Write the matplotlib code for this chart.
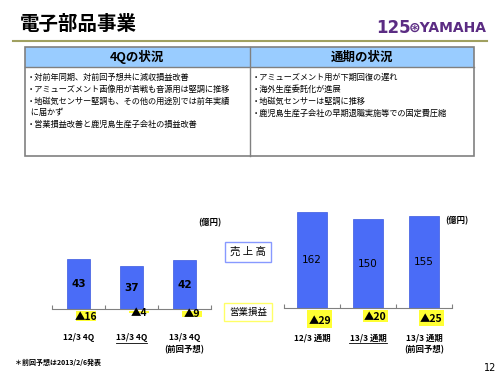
import matplotlib.pyplot as plt
from matplotlib.patches import Rectangle
from matplotlib.lines import Line2D

plt.rcParams['font.family'] = ['Noto Sans CJK JP', 'DejaVu Sans']

# data
q_labels = ['12/3 4Q', '13/3 4Q', '13/3 4Q\n(前回予想)']
q_sales = [43, 37, 42]
q_profit = [-16, -4, -9]
y_labels = ['12/3 通期', '13/3 通期', '13/3 通期\n(前回予想)']
y_sales = [162, 150, 155]
y_profit = [-29, -20, -25]

left_items = ['・対前年同期、対前回予想共に減収損益改善',
              '・アミューズメント画像用が苦戦も音源用は堅調に推移',
              '・地磁気センサー堅調も、その他の用途別では前年実績\n  に届かず',
              '・営業損益改善と鹿児島生産子会社の損益改善']
right_items = ['・アミューズメント用が下期回復の遅れ',
               '・海外生産委託化が進展',
               '・地磁気センサーは堅調に推移',
               '・鹿児島生産子会社の早期退職実施等での固定費圧縮']

W, H = 500, 375
fig = plt.figure(figsize=(5, 3.75), dpi=100)


def fx(x):
    return x / W


def fy(y):
    return 1 - y / H


# title and logo
fig.text(fx(20), fy(24), '電子部品事業', fontsize=14, fontweight='bold', va='center')
fig.add_artist(Line2D([fx(13), fx(487)], [fy(41), fy(41)], color='#a0a060', lw=1.5))
fig.text(fx(376), fy(28), '125', fontsize=12, fontweight='bold', color='#5b2c83',
         va='center', family='DejaVu Sans')
fig.text(fx(487), fy(28), '⊛YAMAHA', fontsize=10, fontweight='bold', color='#5b2c83',
         va='center', ha='right', family='DejaVu Sans')

# table
fig.add_artist(Rectangle((fx(25), fy(67)), fx(449), 20 / H, facecolor='#99ccff',
                         edgecolor='none'))
fig.add_artist(Rectangle((fx(25), fy(156)), fx(449), 109 / H, facecolor='none',
                         edgecolor='#808080', lw=1.2))
fig.add_artist(Line2D([fx(25), fx(474)], [fy(67), fy(67)], color='#808080', lw=1))
fig.add_artist(Line2D([fx(250), fx(250)], [fy(47), fy(156)], color='#808080', lw=1))
fig.text(fx(137), fy(57), '4Qの状況', fontsize=9, fontweight='bold', ha='center', va='center')
fig.text(fx(362), fy(57), '通期の状況', fontsize=9, fontweight='bold', ha='center', va='center')

ly = 77
for t in left_items:
    for line in t.split('\n'):
        fig.text(fx(27), fy(ly), line, fontsize=5.9, va='center')
        ly += 11
    ly += 1
ry = 77
for t in right_items:
    fig.text(fx(252), fy(ry), t, fontsize=5.9, va='center')
    ry += 12


def chart(rect_px, sales, profit, labels, scale, pscale, zero, bw, pw, sales_bold):
    x0, x1, y0, y1 = rect_px
    ax = fig.add_axes([fx(x0), fy(y1), (x1 - x0) / W, (y1 - y0) / H])
    ax.set_xlim(-0.5, 2.5)
    ax.set_ylim(-(y1 - zero) / scale, (zero - y0) / scale)
    ax.bar(range(3), sales, width=bw, color='#4a6cf7', edgecolor='#3a58e0', lw=0.5, zorder=2)
    for i, v in enumerate(sales):
        ax.text(i, v / 2, str(v), ha='center', va='center', fontsize=7.5,
                fontweight='bold' if sales_bold else 'normal', family='DejaVu Sans')
    for s in ['top', 'left', 'right']:
        ax.spines[s].set_visible(False)
    ax.spines['bottom'].set_position(('data', 0))
    ax.spines['bottom'].set_color('#808080')
    ax.set_xticks([-0.5, 0.5, 1.5, 2.5])
    ax.set_xticklabels([])
    ax.tick_params(axis='x', direction='in', length=3, color='#808080')
    ax.set_yticks([])
    ax.patch.set_alpha(0)

    # operating profit on its own scale
    ax2 = ax.twinx()
    z2 = zero + 2
    ax2.set_ylim(-(y1 - z2) / pscale, (z2 - y0) / pscale)
    off = 7.5 / ((x1 - x0) / 3)
    ax2.bar([i + off for i in range(3)], profit, width=pw, color='#ffff33', zorder=1)
    for i, v in enumerate(profit):
        ax2.text(i + off, min(v * 0.6, -3.5), '▲' + str(-v), ha='center', va='center',
                 fontsize=7.5, fontweight='bold')
    ax2.axis('off')

    for i, lab in enumerate(labels):
        cx = x0 + (i + 0.5) * (x1 - x0) / 3
        fig.text(fx(cx), fy(333), lab, ha='center', va='top', fontsize=6,
                 fontweight='bold', linespacing=1.5)
        if i == 1:
            first = lab.split('\n')[0]
            hw = len(first) * 2.2 + (4 if '通' in first else 0)
            fig.add_artist(Line2D([fx(cx - hw), fx(cx + hw)], [fy(343), fy(343)],
                                  color='black', lw=0.6))
    return ax


chart((52, 211, 200, 330), q_sales, q_profit, q_labels, 1.16, 0.62, 309, 0.43, 0.38, True)
chart((284, 452, 200, 330), y_sales, y_profit, y_labels, 0.593, 0.62, 308, 0.54, 0.45, False)

fig.text(fx(210), fy(223), '(億円)', fontsize=6, fontweight='bold', ha='center', va='center')
fig.text(fx(457), fy(221), '(億円)', fontsize=6, fontweight='bold', ha='center', va='center')

fig.text(fx(248), fy(252), '売 上 高', fontsize=7.5, ha='center', va='center',
         bbox=dict(boxstyle='square,pad=0.5', fc='white', ec='#8899ff', lw=1))
fig.text(fx(248), fy(312), '営業損益', fontsize=6.8, ha='center', va='center',
         bbox=dict(boxstyle='square,pad=0.5', fc='white', ec='#ffff66', lw=1))

fig.text(fx(15), fy(362), '＊前回予想は2013/2/6発表', fontsize=5, fontweight='bold', va='center')
fig.text(fx(496), fy(368), '12', fontsize=7, ha='right', va='center', family='DejaVu Sans')

fig.savefig('out.png', dpi=100)
